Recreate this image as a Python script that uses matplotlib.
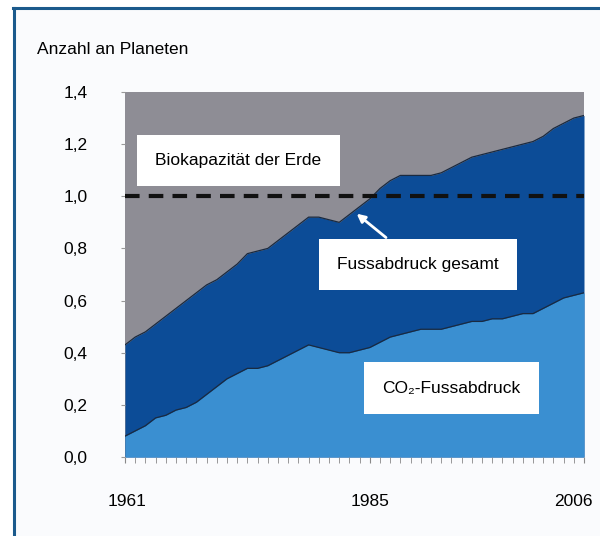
import numpy as np
import matplotlib
matplotlib.use('Agg')
import matplotlib.pyplot as plt
from matplotlib.patches import Rectangle
from matplotlib.lines import Line2D
from matplotlib.transforms import ScaledTranslation

plt.rcParams['font.family'] = ['Liberation Sans', 'DejaVu Sans']

# data
years = np.arange(1961, 2007)
total = [0.43, 0.46, 0.48, 0.51, 0.54, 0.57, 0.60, 0.63, 0.66, 0.68,
         0.71, 0.74, 0.78, 0.79, 0.80, 0.83, 0.86, 0.89, 0.92, 0.92,
         0.91, 0.90, 0.93, 0.96, 0.99, 1.03, 1.06, 1.08, 1.08, 1.08,
         1.08, 1.09, 1.11, 1.13, 1.15, 1.16, 1.17, 1.18, 1.19, 1.20,
         1.21, 1.23, 1.26, 1.28, 1.30, 1.31]
co2 = [0.08, 0.10, 0.12, 0.15, 0.16, 0.18, 0.19, 0.21, 0.24, 0.27,
       0.30, 0.32, 0.34, 0.34, 0.35, 0.37, 0.39, 0.41, 0.43, 0.42,
       0.41, 0.40, 0.40, 0.41, 0.42, 0.44, 0.46, 0.47, 0.48, 0.49,
       0.49, 0.49, 0.50, 0.51, 0.52, 0.52, 0.53, 0.53, 0.54, 0.55,
       0.55, 0.57, 0.59, 0.61, 0.62, 0.63]
biocap = 1.0
ymax = 1.4
yticks = [0.0, 0.2, 0.4, 0.6, 0.8, 1.0, 1.2, 1.4]
xlabels = [1961, 1985, 2006]

gray = '#8e8d95'
dark_blue = '#0c4c97'
light_blue = '#3a8fd1'

fig = plt.figure(figsize=(6, 5.36), dpi=100, facecolor='white')

# off-white panel with blue frame lines
fig.patches.append(Rectangle((15/600, 0), 1, 1 - 10/536, transform=fig.transFigure,
                             facecolor='#fafbfd', edgecolor='none', zorder=-5))
fig.add_artist(Line2D([13/600, 1], [1 - 8/536] * 2, color='#1b5a8c', lw=2.2))
fig.add_artist(Line2D([14/600] * 2, [0, 1 - 8/536], color='#1b5a8c', lw=2.2))

ax = fig.add_axes([125/600, 1 - 457/536, 459/600, 365/536])
ax.set_zorder(2)
ax.set_facecolor(gray)
ax.fill_between(years, 0, ymax, color=gray, lw=0)
ax.fill_between(years, 0, total, color=dark_blue, lw=0)
ax.fill_between(years, 0, co2, color=light_blue, lw=0)
ax.plot(years, total, color='#1a2a40', lw=0.9)
ax.plot(years, co2, color='#1a2a40', lw=0.9)
ax.axhline(biocap, color='#111111', lw=3, dashes=(3.5, 2.2))

ax.set_xlim(1961, 2006)
ax.set_ylim(0, ymax)
for s in ax.spines.values():
    s.set_visible(False)

ax.set_yticks(yticks)
ax.set_yticklabels([f'{v:.1f}'.replace('.', ',') for v in yticks], fontsize=12.5)
ax.tick_params(axis='y', length=3, color='#999999', pad=24)
ax.set_xticks(xlabels)
ax.set_xticklabels([str(v) for v in xlabels], fontsize=12.5)
ax.set_xticks(years, minor=True)
ax.tick_params(axis='x', which='both', length=4, color='#888888', pad=23)
lbl = ax.get_xticklabels()
lbl[0].set_transform(lbl[0].get_transform() + ScaledTranslation(2/100, 0, fig.dpi_scale_trans))
lbl[-1].set_transform(lbl[-1].get_transform() + ScaledTranslation(-11/100, 0, fig.dpi_scale_trans))

fig.text(37/600, 1 - 50/536, 'Anzahl an Planeten', fontsize=12.5, va='center', ha='left')

box = dict(boxstyle='square,pad=1.05', facecolor='white', edgecolor='none')
ax.text(1972.1, 1.138, 'Biokapazität der Erde', fontsize=12.5, ha='center', va='center', bbox=box)
ax.text(1989.7, 0.739, 'Fussabdruck gesamt', fontsize=12.5, ha='center', va='center', bbox=box)
ax.text(1993.0, 0.264, 'CO₂-Fussabdruck', fontsize=12.5, ha='center', va='center', bbox=box)
ax.annotate('', xy=(1983.5, 0.94), xytext=(1986.8, 0.835),
            arrowprops=dict(arrowstyle='-|>', color='white', lw=2, mutation_scale=12))

fig.savefig('out.png', dpi=100)
